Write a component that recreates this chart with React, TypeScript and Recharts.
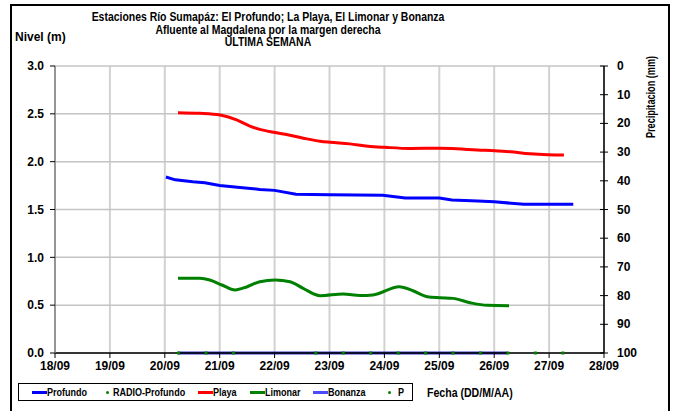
import {
  CartesianGrid,
  ComposedChart,
  Line,
  Scatter,
  XAxis,
  YAxis,
} from "recharts";

// x = days since 18/09
const dayLabels = ["18/09", "19/09", "20/09", "21/09", "22/09", "23/09", "24/09", "25/09", "26/09", "27/09", "28/09"];
const nivelTicks = [0, 0.5, 1, 1.5, 2, 2.5, 3];
const precipTicks = [0, 10, 20, 30, 40, 50, 60, 70, 80, 90, 100];

const profundoX = [2.02, 2.19, 2.51, 2.73, 3.0, 3.37, 3.73, 4.0, 4.39, 5.0, 5.97, 6.38, 7.0, 7.23, 7.7, 8.0, 8.54, 9.44];
const profundoY = [1.84, 1.81, 1.79, 1.78, 1.75, 1.73, 1.71, 1.7, 1.66, 1.655, 1.65, 1.62, 1.62, 1.6, 1.59, 1.58, 1.555, 1.555];

const playaX = [2.24, 2.64, 3.01, 3.32, 3.55, 3.73, 4.01, 4.28, 4.59, 4.83, 5.01, 5.37, 5.7, 6.01, 6.47, 7.01, 7.32, 7.69, 8.01, 8.29, 8.65, 8.98, 9.27];
const playaY = [2.512, 2.505, 2.487, 2.435, 2.372, 2.337, 2.305, 2.277, 2.238, 2.214, 2.203, 2.186, 2.162, 2.15, 2.138, 2.14, 2.135, 2.122, 2.115, 2.104, 2.083, 2.073, 2.07];

const limonarX = [2.24, 2.64, 2.82, 3.04, 3.28, 3.5, 3.73, 4.01, 4.28, 4.52, 4.83, 5.25, 5.56, 5.79, 6.27, 6.52, 6.78, 7.01, 7.25, 7.56, 7.87, 8.27];
const limonarY = [0.781, 0.781, 0.763, 0.711, 0.659, 0.693, 0.745, 0.763, 0.745, 0.676, 0.599, 0.617, 0.6, 0.606, 0.693, 0.651, 0.589, 0.578, 0.571, 0.526, 0.498, 0.494];

const bonanzaX = [2.24, 8.24];
const bonanzaY = [0, 0];

const radioX = [2.25, 2.75, 3.25, 4.75, 5.25, 5.75, 6.25, 6.75, 7.25, 7.75, 8.25, 8.75, 9.25];
const radioY = [0, 0, 0, 0, 0, 0, 0, 0, 0, 0, 0, 0, 0];

// only spans the right axis range, drawn invisible
const precipX = [0, 10];
const precipY = [0, 100];

const zip = (xs: number[], ys: number[]) => xs.map((x, i) => ({ x, y: ys[i] }));

const FONT = '"Liberation Sans", Arial, sans-serif';
const bold = { fontFamily: FONT, fontWeight: 700, fill: "#000" };

const rightTick = (props: any) => {
  const { x, y, payload } = props;
  const ax = x - 13;
  return (
    <g>
      <line x1={ax - 4} x2={ax + 4} y1={y} y2={y} stroke="#000" strokeWidth={1} />
      <text x={x} y={y} dy={4} textAnchor="start" fontSize={12} fontFamily={FONT} fontWeight={700} fill="#000">
        {payload.value}
      </text>
    </g>
  );
};

type ItemProps = { lineLeft: number; textLeft: number; color: string; kind: "line" | "dot"; label: string };

function LegendItem({ lineLeft, textLeft, color, kind, label }: ItemProps) {
  return (
    <>
      {kind === "line" ? (
        <div style={{ position: "absolute", left: lineLeft, top: 7, width: 15, height: 3, background: color }} />
      ) : (
        <div style={{ position: "absolute", left: lineLeft - 1, top: 7, width: 3, height: 3, borderRadius: 2, background: color }} />
      )}
      <div style={{ position: "absolute", left: textLeft, top: 2, fontSize: 11, fontWeight: 700, lineHeight: "13px", whiteSpace: "nowrap", transform: "scaleX(0.82)", transformOrigin: "left" }}>
        {label}
      </div>
    </>
  );
}

export default function App() {
  const dayTicks = dayLabels.map((_, i) => i);
  return (
    <div style={{ position: "absolute", left: 0, top: 0, width: 674, height: 411, overflow: "hidden", background: "#fff", fontFamily: FONT }}>
      <div style={{ position: "absolute", left: 10, top: 4, width: 660, height: 430, border: "2.5px solid #000", boxSizing: "border-box" }} />
      <div style={{ position: "absolute", left: 18, width: 500, top: 11, textAlign: "center", fontSize: 12, fontWeight: 700, lineHeight: "12.5px", whiteSpace: "nowrap", transform: "scaleX(0.87)", transformOrigin: "250px 0" }}>
        <div>Estaciones Río Sumapáz: El Profundo; La Playa, El Limonar y Bonanza</div>
        <div>Afluente al Magdalena por la margen derecha</div>
        <div>ULTIMA SEMANA</div>
      </div>
      <div style={{ position: "absolute", left: 15, top: 30, fontSize: 12, fontWeight: 700 }}>Nivel (m)</div>
      <div style={{ position: "absolute", left: 651, top: 97, transform: "translate(-50%, -50%) rotate(-90deg) scaleX(0.76)", fontSize: 12, fontWeight: 700, whiteSpace: "nowrap" }}>
        Precipitacion (mm)
      </div>
      <div style={{ position: "absolute", left: 427, top: 386, fontSize: 12, fontWeight: 700, whiteSpace: "nowrap", transform: "scaleX(0.88)", transformOrigin: "left" }}>
        Fecha (DD/M/AA)
      </div>
      <div style={{ position: "absolute", left: 18, top: 383, width: 395, height: 18, border: "1px solid #000", boxSizing: "border-box" }}>
        <LegendItem lineLeft={13} textLeft={28} color="#0000ff" kind="line" label="Profundo" />
        <LegendItem lineLeft={88} textLeft={94} color="#008000" kind="dot" label="RADIO-Profundo" />
        <LegendItem lineLeft={179} textLeft={194} color="#ff0000" kind="line" label="Playa" />
        <LegendItem lineLeft={231} textLeft={246} color="#008000" kind="line" label="Limonar" />
        <LegendItem lineLeft={294} textLeft={309} color="#4a4aff" kind="line" label="Bonanza" />
        <LegendItem lineLeft={370} textLeft={379} color="#008000" kind="dot" label="P" />
      </div>
      <div style={{ position: "absolute", left: 0, top: 0 }}>
        <ComposedChart width={674} height={411} margin={{ top: 66, right: 30, bottom: 38, left: 15 }}>
          <CartesianGrid horizontal={false} stroke="#d2d2d2" strokeWidth={2} yAxisId="left" />
          <CartesianGrid vertical={false} stroke="#c4c4c4" strokeWidth={1.5} yAxisId="left" />
          <XAxis
            type="number"
            dataKey="x"
            domain={[0, 10]}
            ticks={dayTicks}
            tickFormatter={(v: number) => dayLabels[v]}
            height={20}
            tickSize={5}
            tickMargin={3}
            axisLine={{ stroke: "#000", strokeWidth: 1.5 }}
            tickLine={{ stroke: "#000" }}
            tick={{ fontSize: 12, ...bold }}
            interval={0}
          />
          <YAxis
            yAxisId="left"
            dataKey="y"
            domain={[0, 3]}
            ticks={nivelTicks}
            tickFormatter={(v: number) => v.toFixed(1)}
            width={40}
            tickSize={5}
            tickMargin={6}
            axisLine={{ stroke: "#808080", strokeWidth: 1.5 }}
            tickLine={{ stroke: "#000" }}
            tick={{ fontSize: 12, ...bold }}
            interval={0}
          />
          <YAxis
            yAxisId="right"
            orientation="right"
            reversed
            type="number"
            domain={[0, 100]}
            ticks={precipTicks}
            width={40}
            tickSize={4}
            tickMargin={9}
            axisLine={{ stroke: "#000", strokeWidth: 1.5 }}
            tickLine={false}
            tick={rightTick}
            interval={0}
          />
          <Line yAxisId="right" data={zip(precipX, precipY)} dataKey="y" stroke="none" dot={false} activeDot={false} legendType="none" isAnimationActive={false} />
          <Line yAxisId="left" data={zip(bonanzaX, bonanzaY)} dataKey="y" type="linear" stroke="#3333c8" strokeWidth={3} dot={false} isAnimationActive={false} />
          <Line yAxisId="left" data={zip(limonarX, limonarY)} dataKey="y" type="monotone" stroke="#008000" strokeWidth={3} dot={false} isAnimationActive={false} />
          <Line yAxisId="left" data={zip(playaX, playaY)} dataKey="y" type="monotone" stroke="#ff0000" strokeWidth={3} dot={false} isAnimationActive={false} />
          <Line yAxisId="left" data={zip(profundoX, profundoY)} dataKey="y" type="linear" stroke="#0000ff" strokeWidth={3} dot={false} isAnimationActive={false} />
          <Scatter
            yAxisId="left"
            data={zip(radioX, radioY)}
            dataKey="y"
            fill="#008000"
            isAnimationActive={false}
            shape={(p: any) => <rect x={p.cx - 1.5} y={p.cy - 1.5} width={3} height={3} fill="#008000" />}
          />
        </ComposedChart>
      </div>
    </div>
  );
}
